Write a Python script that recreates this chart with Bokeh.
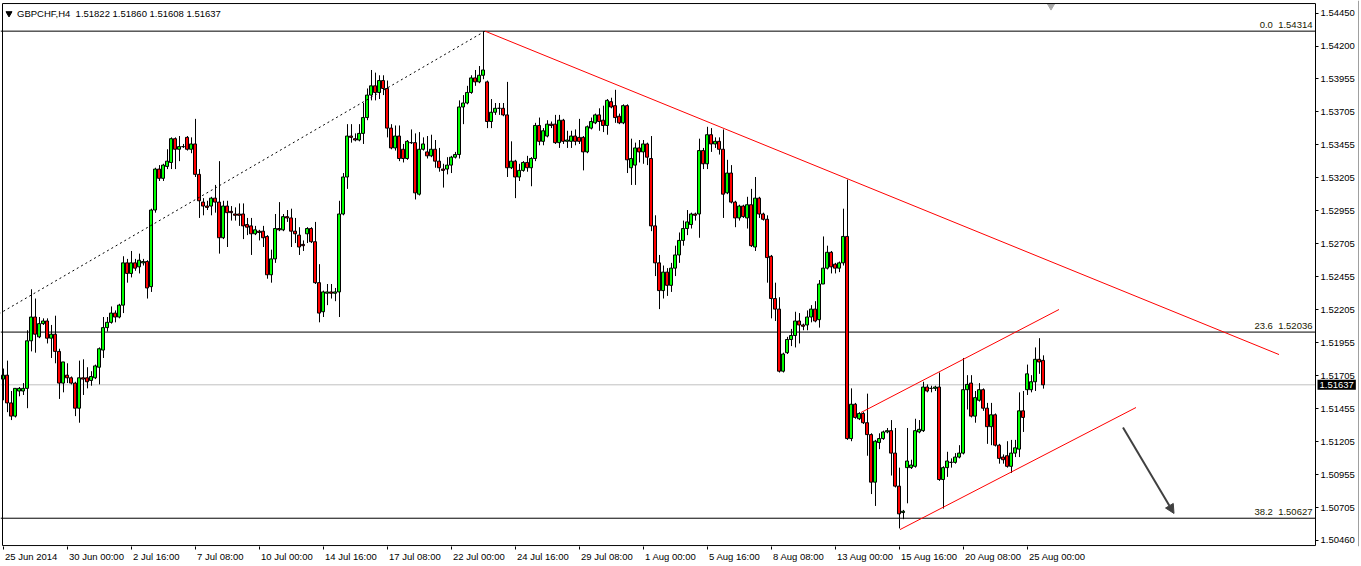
from bokeh.plotting import figure
from bokeh.models import (Label, FixedTicker, NumeralTickFormatter, Arrow,
                          NormalHead, ColumnDataSource, BoxAnnotation)
from bokeh.embed import file_html
from bokeh.resources import INLINE

# ---------------- data (GBPCHF H4) ----------------
opens = [
1.5168,1.5171,1.5150,1.5140,1.5159,1.5159,1.5161,1.5197,1.5215,1.5200,
1.5210,1.5212,1.5199,1.5202,1.5189,1.5165,1.5171,1.5169,1.5165,1.5146,
1.5169,1.5169,1.5167,1.5169,1.5177,1.5190,1.5207,1.5211,1.5218,1.5215,
1.5224,1.5256,1.5248,1.5256,1.5253,1.5256,1.5257,1.5238,1.5296,1.5327,
1.5320,1.5329,1.5332,1.5350,1.5342,1.5344,1.5351,1.5342,1.5346,1.5323,
1.5302,1.5299,1.5299,1.5305,1.5302,1.5275,1.5299,1.5295,1.5293,1.5293,
1.5293,1.5285,1.5284,1.5278,1.5280,1.5280,1.5276,1.5247,1.5259,1.5282,
1.5281,1.5291,1.5290,1.5280,1.5277,1.5270,1.5278,1.5282,1.5272,1.5241,
1.5219,1.5233,1.5234,1.5233,1.5234,1.5293,1.5321,1.5352,1.5350,1.5349,
1.5354,1.5366,1.5383,1.5390,1.5385,1.5394,1.5388,1.5358,1.5343,1.5352,
1.5342,1.5335,1.5347,1.5347,1.5308,1.5342,1.5340,1.5337,1.5342,1.5333,
1.5327,1.5327,1.5330,1.5336,1.5338,1.5374,1.5377,1.5385,1.5396,1.5393,
1.5398,1.5393,1.5363,1.5370,1.5373,1.5373,1.5368,1.5328,1.5333,1.5321,
1.5326,1.5332,1.5328,1.5335,1.5360,1.5348,1.5352,1.5361,1.5361,1.5347,
1.5364,1.5348,1.5348,1.5352,1.5351,1.5351,1.5340,1.5358,1.5362,1.5368,
1.5364,1.5360,1.5378,1.5375,1.5367,1.5362,1.5375,1.5328,1.5330,1.5343,
1.5340,1.5346,1.5335,1.5284,1.5256,1.5235,1.5249,1.5239,1.5252,1.5262,
1.5273,1.5282,1.5285,1.5293,1.5293,1.5341,1.5331,1.5353,1.5346,1.5348,
1.5342,1.5309,1.5324,1.5302,1.5290,1.5299,1.5290,1.5300,1.5268,1.5305,
1.5293,1.5289,1.5261,1.5229,1.5221,1.5174,1.5188,1.5198,1.5201,1.5212,
1.5209,1.5209,1.5215,1.5221,1.5213,1.5240,1.5252,1.5264,1.5255,1.5252,
1.5256,1.5276,1.5123,1.5149,1.5138,1.5142,1.5135,1.5126,1.5090,1.5120,
1.5123,1.5128,1.5129,1.5112,1.5087,1.5067,1.5101,1.5101,1.5102,1.5128,
1.5129,1.5162,1.5161,1.5161,1.5162,1.5092,1.5101,1.5105,1.5105,1.5109,
1.5112,1.5160,1.5165,1.5140,1.5152,1.5160,1.5146,1.5132,1.5141,1.5118,
1.5109,1.5110,1.5102,1.5112,1.5115,1.5144,1.5160,1.5160,1.5166,1.5183,
1.51822]

highs = [
1.5176,1.5182,1.5159,1.5161,1.5162,1.5165,1.5205,1.5236,1.5229,1.5215,
1.5214,1.5214,1.5209,1.5216,1.5191,1.5181,1.5180,1.5170,1.5166,1.5182,
1.5183,1.5177,1.5174,1.5179,1.5192,1.5215,1.5215,1.5223,1.5220,1.5225,
1.5261,1.5259,1.5265,1.5259,1.5263,1.5259,1.5258,1.5297,1.5328,1.5330,
1.5331,1.5342,1.5351,1.5351,1.5352,1.5346,1.5352,1.5351,1.5365,1.5327,
1.5305,1.5303,1.5306,1.5315,1.5333,1.5303,1.5303,1.5299,1.5298,1.5301,
1.5301,1.5290,1.5290,1.5284,1.5281,1.5284,1.5277,1.5266,1.5293,1.5302,
1.5293,1.5296,1.5297,1.5290,1.5283,1.5273,1.5283,1.5283,1.5287,1.5255,
1.5235,1.5240,1.5240,1.5237,1.5303,1.5324,1.5361,1.5361,1.5354,1.5361,
1.5377,1.5388,1.5402,1.5400,1.5398,1.5398,1.5394,1.5361,1.5360,1.5360,
1.5346,1.5349,1.5357,1.5354,1.5355,1.5351,1.5352,1.5353,1.5349,1.5343,
1.5331,1.5336,1.5337,1.5340,1.5379,1.5383,1.5390,1.5398,1.5402,1.5405,
1.54314,1.5394,1.5380,1.5377,1.5377,1.5377,1.5393,1.5348,1.5334,1.5331,
1.5333,1.5337,1.5336,1.5362,1.5366,1.5358,1.5364,1.5363,1.5368,1.5368,
1.5365,1.5356,1.5356,1.5357,1.5365,1.5352,1.5360,1.5366,1.5369,1.5373,
1.5375,1.5380,1.5381,1.5387,1.5369,1.5376,1.5376,1.5350,1.5347,1.5349,
1.5349,1.5347,1.5352,1.5292,1.5262,1.5254,1.5252,1.5256,1.5269,1.5279,
1.5288,1.5296,1.5294,1.5294,1.5350,1.5343,1.5359,1.5358,1.5351,1.5351,
1.5357,1.5334,1.5330,1.5303,1.5300,1.5300,1.5306,1.5312,1.5321,1.5306,
1.5294,1.5292,1.5262,1.5241,1.5230,1.5188,1.5200,1.5206,1.5219,1.5218,
1.5210,1.5220,1.5224,1.5227,1.5243,1.5276,1.5269,1.5265,1.5256,1.5257,
1.5297,1.5319,1.5161,1.5150,1.5143,1.5143,1.5157,1.5127,1.5122,1.5127,
1.5129,1.5131,1.5137,1.5131,1.5101,1.5069,1.5131,1.5107,1.5138,1.5137,
1.5166,1.5164,1.5163,1.5163,1.5173,1.5102,1.5113,1.5108,1.5112,1.5118,
1.5184,1.5171,1.5171,1.5159,1.5165,1.5161,1.5150,1.5150,1.5142,1.5119,
1.5111,1.5121,1.5122,1.5122,1.5158,1.5159,1.5179,1.5171,1.5192,1.5199,
1.51860]

lows = [
1.5152,1.5143,1.5137,1.5139,1.5155,1.5156,1.5146,1.5189,1.5188,1.5199,
1.5209,1.5195,1.5184,1.5180,1.5153,1.5158,1.5165,1.5164,1.5140,1.5135,
1.5156,1.5161,1.5163,1.5168,1.5164,1.5184,1.5204,1.5210,1.5211,1.5214,
1.5218,1.5241,1.5245,1.5250,1.5248,1.5254,1.5229,1.5234,1.5294,1.5318,
1.5318,1.5327,1.5327,1.5327,1.5333,1.5343,1.5341,1.5339,1.5321,1.5290,
1.5292,1.5296,1.5292,1.5294,1.5263,1.5274,1.5268,1.5288,1.5288,1.5284,
1.5274,1.5277,1.5262,1.5277,1.5273,1.5268,1.5244,1.5241,1.5256,1.5280,
1.5280,1.5287,1.5268,1.5271,1.5262,1.5265,1.5271,1.5271,1.5240,1.5211,
1.5215,1.5224,1.5229,1.5227,1.5215,1.5292,1.5312,1.5347,1.5348,1.5348,
1.5346,1.5364,1.5379,1.5379,1.5380,1.5383,1.5351,1.5342,1.5341,1.5333,
1.5332,1.5334,1.5346,1.5304,1.5307,1.5341,1.5335,1.5336,1.5328,1.5325,
1.5313,1.5323,1.5324,1.5335,1.5335,1.5361,1.5376,1.5384,1.5390,1.5392,
1.5395,1.5358,1.5358,1.5368,1.5368,1.5367,1.5321,1.5327,1.5305,1.5318,
1.5325,1.5325,1.5314,1.5333,1.5345,1.5345,1.5351,1.5358,1.5346,1.5343,
1.5346,1.5343,1.5343,1.5345,1.5346,1.5326,1.5339,1.5357,1.5361,1.5356,
1.5355,1.5353,1.5373,1.5362,1.5361,1.5361,1.5324,1.5315,1.5315,1.5332,
1.5331,1.5330,1.5280,1.5246,1.5221,1.5229,1.5231,1.5234,1.5246,1.5256,
1.5269,1.5277,1.5282,1.5288,1.5275,1.5327,1.5327,1.5340,1.5343,1.5338,
1.5290,1.5308,1.5301,1.5283,1.5288,1.5290,1.5282,1.5268,1.5265,1.5290,
1.5288,1.5241,1.5214,1.5212,1.5173,1.5173,1.5187,1.5193,1.5192,1.5195,
1.5205,1.5205,1.5211,1.5211,1.5207,1.5240,1.5251,1.5248,1.5248,1.5249,
1.5254,1.5122,1.5121,1.5138,1.5137,1.5134,1.5110,1.5081,1.5072,1.5115,
1.5122,1.5127,1.5095,1.5086,1.5055,1.5062,1.5074,1.5100,1.5101,1.5127,
1.5128,1.5158,1.5158,1.5159,1.5091,1.5070,1.5094,1.5101,1.5104,1.5108,
1.5111,1.5145,1.5139,1.5135,1.5151,1.5144,1.5119,1.5118,1.5117,1.5104,
1.5104,1.5101,1.5097,1.5109,1.5109,1.5128,1.5156,1.5158,1.5159,1.5172,
1.51608]

closes = [
1.5171,1.5150,1.5140,1.5161,1.5161,1.5161,1.5197,1.5215,1.5202,1.5210,
1.5212,1.5199,1.5202,1.5189,1.5165,1.5181,1.5169,1.5165,1.5146,1.5169,
1.5168,1.5166,1.5170,1.5178,1.5191,1.5207,1.5211,1.5218,1.5215,1.5224,
1.5256,1.5248,1.5256,1.5252,1.5258,1.5257,1.5237,1.5296,1.5327,1.5320,
1.5330,1.5333,1.5350,1.5342,1.5344,1.5344,1.5342,1.5346,1.5323,1.5303,
1.5299,1.5298,1.5305,1.5302,1.5275,1.5299,1.5294,1.5294,1.5292,1.5292,
1.5284,1.5283,1.5278,1.5281,1.5279,1.5275,1.5247,1.5259,1.5282,1.5281,
1.5291,1.5290,1.5280,1.5278,1.5268,1.5269,1.5282,1.5272,1.5241,1.5218,
1.5234,1.5234,1.5233,1.5234,1.5293,1.5321,1.5352,1.5351,1.5349,1.5354,
1.5366,1.5383,1.5390,1.5385,1.5394,1.5388,1.5358,1.5343,1.5352,1.5335,
1.5335,1.5348,1.5347,1.5309,1.5342,1.5346,1.5337,1.5342,1.5333,1.5328,
1.5326,1.5330,1.5336,1.5338,1.5374,1.5377,1.5385,1.5396,1.5393,1.5398,
1.5402,1.5363,1.5370,1.5373,1.5373,1.5368,1.5328,1.5333,1.5321,1.5326,
1.5332,1.5328,1.5335,1.5360,1.5348,1.5356,1.5361,1.5360,1.5347,1.5364,
1.5348,1.5349,1.5352,1.5348,1.5348,1.5340,1.5359,1.5363,1.5368,1.5363,
1.5360,1.5379,1.5374,1.5366,1.5362,1.5375,1.5334,1.5335,1.5343,1.5340,
1.5346,1.5336,1.5284,1.5256,1.5235,1.5249,1.5239,1.5252,1.5262,1.5273,
1.5282,1.5287,1.5293,1.5292,1.5341,1.5331,1.5353,1.5346,1.5348,1.5342,
1.5308,1.5324,1.5302,1.5290,1.5299,1.5291,1.5300,1.5269,1.5305,1.5293,
1.5289,1.5260,1.5229,1.5221,1.5174,1.5187,1.5198,1.5201,1.5212,1.5209,
1.5208,1.5215,1.5221,1.5212,1.5240,1.5252,1.5264,1.5253,1.5252,1.5256,
1.5276,1.5123,1.5149,1.5139,1.5142,1.5135,1.5126,1.5090,1.5121,1.5123,
1.5128,1.5129,1.5112,1.5087,1.5066,1.5068,1.5106,1.5103,1.5129,1.5130,
1.5162,1.5159,1.5161,1.5162,1.5092,1.5101,1.5106,1.5105,1.5109,1.5112,
1.5160,1.5164,1.5140,1.5154,1.5160,1.5146,1.5132,1.5141,1.5118,1.5108,
1.5107,1.5102,1.5112,1.5116,1.5144,1.5139,1.5172,1.5166,1.5183,1.5181,
1.51637]

x_label_pos = [0, 16, 32, 48, 64, 80, 96, 112, 128, 144, 160, 176, 192, 208, 224, 240, 256]
x_labels = ["25 Jun 2014", "30 Jun 00:00", "2 Jul 16:00", "7 Jul 08:00", "10 Jul 00:00",
            "14 Jul 16:00", "17 Jul 08:00", "22 Jul 00:00", "24 Jul 16:00", "29 Jul 08:00",
            "1 Aug 00:00", "5 Aug 16:00", "8 Aug 08:00", "13 Aug 00:00", "15 Aug 16:00",
            "20 Aug 08:00", "25 Aug 00:00"]
y_ticks = [1.5445, 1.5420, 1.53955, 1.53705, 1.53455, 1.53205, 1.52955, 1.52705,
           1.52455, 1.52205, 1.51955, 1.51705, 1.51455, 1.51205, 1.50955, 1.50705, 1.5046]

fib_levels = [1.54314, 1.52036, 1.50627]
fib_names = ["0.0", "23.6", "38.2"]
last_price = 1.51637
symbol = "GBPCHF,H4"
header_ohlc = "1.51822 1.51860 1.51608 1.51637"

# drawn objects (trend lines, channel, arrow) in bar-index / price units
fib_trend_x = [-1.0, 120.5]
fib_trend_y = [1.52174, 1.54314]
resist_x = [120.5, 319.0]
resist_y = [1.54314, 1.51866]
chan_up_x = [214.5, 264.0]
chan_up_y = [1.51427, 1.52207]
chan_lo_x = [224.25, 283.25]
chan_lo_y = [1.50541, 1.51465]
arrow_x = [280.0, 292.75]
arrow_y = [1.51314, 1.50663]

# ---------------- layout constants ----------------
FONT = "Liberation Sans"
FS_PX = 9.5
FS = f"{FS_PX}px"
PX_PER_BAR = 4.0
NB = "\u00a0"
X0, X1 = -0.625, 339.625         # whole frame (chart + price scale strip), 4 px per bar
Y0, Y1 = 1.50413, 1.54546
CHART_LEFT, CHART_RIGHT = -0.125, 328.125
CHART_TOP, CHART_BOTTOM = 1.54523, 1.50420
WINDOW_EDGE = 338.875

n = len(opens)
idx = list(range(n))
bull = [c >= o for o, c in zip(opens, closes)]
src = ColumnDataSource(dict(
    x=idx,
    xw=[i + 0.125 for i in idx],
    top=[max(o, c) for o, c in zip(opens, closes)],
    bottom=[min(o, c) for o, c in zip(opens, closes)],
    high=highs, low=lows,
    color=["#00FF00" if b else "#FF0000" for b in bull],
))

p = figure(frame_width=1361, frame_height=546,
           x_range=(X0, X1), y_range=(Y0, Y1),
           y_axis_location="right", output_backend="svg", toolbar_location=None,
           min_border_left=0, min_border_top=0, min_border_right=0, min_border_bottom=19)
p.xgrid.visible = False
p.ygrid.visible = False
p.background_fill_color = "white"
p.border_fill_color = "white"
p.outline_line_color = None


def style_axis(ax):
    ax.axis_line_color = None
    ax.major_tick_out = 3
    ax.major_tick_in = 0
    ax.minor_tick_out = 0
    ax.minor_tick_in = 0
    ax.major_tick_line_color = "black"
    ax.minor_tick_line_color = "black"
    ax.major_label_text_font = FONT
    ax.major_label_text_font_size = FS
    ax.major_label_text_color = "black"


# price scale, drawn at the chart's right edge
yax = p.yaxis[0]
style_axis(yax)
yax.ticker = FixedTicker(ticks=y_ticks)
yax.formatter = NumeralTickFormatter(format="0.00000")
yax.major_label_standoff = 2
yax.fixed_location = CHART_RIGHT

# time scale: ticks (minor) at the bars, labels (major) just to the right of them
CW = {" ": 278, ":": 278, "J": 500, "u": 556, "n": 556, "l": 222, "A": 667, "g": 556}


def text_w(s):
    return sum(CW.get(ch, 556) for ch in s) * FS_PX / 1000.0


lab_pos = [pos + (text_w(t) / 2 + 2) / PX_PER_BAR for pos, t in zip(x_label_pos, x_labels)]
xax = p.xaxis[0]
style_axis(xax)
xax.ticker = FixedTicker(ticks=lab_pos, minor_ticks=x_label_pos)
xax.major_label_overrides = {float(k): v for k, v in zip(lab_pos, x_labels)}
xax.major_tick_out = 0
xax.minor_tick_out = 3
xax.major_label_standoff = 1

# chart window border and terminal window edge
p.add_layout(BoxAnnotation(left=CHART_LEFT, right=CHART_RIGHT, bottom=CHART_BOTTOM, top=CHART_TOP,
                           fill_color=None, fill_alpha=0, line_color="black", line_width=1,
                           line_alpha=1))
p.line([WINDOW_EDGE, WINDOW_EDGE], [Y0, Y1], line_color="#A0A0A0", line_width=1)

# horizontal levels (end at the price scale)
p.line([X0, CHART_RIGHT], [last_price, last_price], line_color="#C0C0C0", line_width=1)
for lvl, name in zip(fib_levels, fib_names):
    p.line([X0, CHART_RIGHT], [lvl, lvl], line_color="black", line_width=1)
    p.add_layout(Label(x=CHART_RIGHT, y=lvl, text=f"{name}{NB}{NB}{lvl:.5f}", text_align="right",
                       text_baseline="bottom", x_offset=-3, y_offset=1,
                       text_font=FONT, text_font_size=FS, text_color="#1a1a00"))

# candles
p.segment(x0="xw", y0="high", x1="xw", y1="low", source=src, line_color="black", line_width=1)
p.vbar(x="x", width=0.75, top="top", bottom="bottom", source=src,
       fill_color="color", line_color="black", line_width=1)

# drawn lines
p.line(fib_trend_x, fib_trend_y, line_color="black", line_width=1, line_dash="2 3")
p.line(resist_x, resist_y, line_color="red", line_width=1)
p.line(chan_up_x, chan_up_y, line_color="red", line_width=1)
p.line(chan_lo_x, chan_lo_y, line_color="red", line_width=1)
p.add_layout(Arrow(end=NormalHead(size=9, fill_color="#404040", line_color="#404040"),
                   x_start=arrow_x[0], y_start=arrow_y[0], x_end=arrow_x[1], y_end=arrow_y[1],
                   line_color="#404040", line_width=2))

# header and markers
p.scatter(x=[1.5], y=[1.54448], marker="inverted_triangle", size=6, color="black")
p.add_layout(Label(x=3.5, y=1.54448, text=f"{symbol}{NB}{NB}{header_ohlc}", text_baseline="middle",
                   text_font=FONT, text_font_size=FS, text_color="black"))
p.scatter(x=[262.0], y=[1.54504], marker="inverted_triangle", size=7, color="#A8A8A8")

# current price tag on the price scale
tag = Label(x=CHART_RIGHT, y=last_price, text=f"{last_price:.5f}", x_offset=2,
            text_baseline="middle", text_font=FONT, text_font_size=FS,
            text_color="white", background_fill_color="black")
try:
    tag.padding = 2
except Exception:
    pass
p.add_layout(tag)

open("out.html", "w").write(file_html(p, INLINE))
